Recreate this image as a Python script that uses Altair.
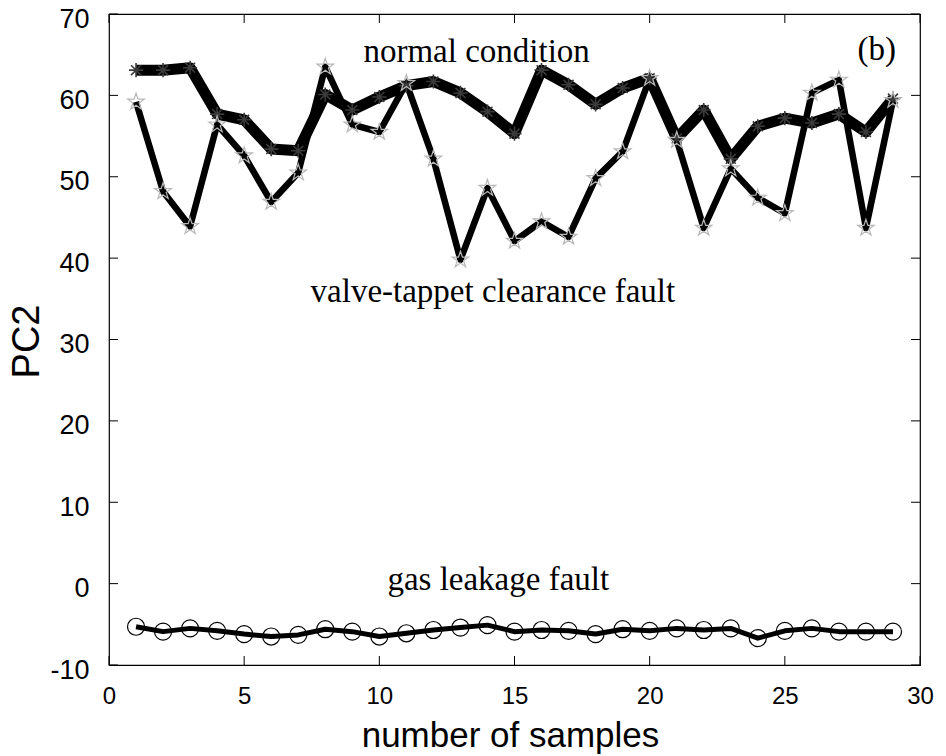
import math
import altair as alt
import pandas as pd

# ---------------- data ----------------
samples = list(range(1, 30))
normal = [63.1, 63.1, 63.4, 57.7, 57.0, 53.4, 53.2, 60.1, 58.2, 59.8, 61.2, 61.7, 60.3, 58.0, 55.3,
          63.1, 61.3, 58.9, 60.9, 62.1, 54.7, 58.2, 52.2, 56.2, 57.2, 56.6, 57.7, 55.5, 59.6]
valve = [59.2, 48.2, 43.9, 56.4, 52.6, 46.9, 50.5, 63.5, 56.4, 55.5, 61.5, 52.2, 39.8, 48.6, 42.1,
         44.5, 42.6, 49.8, 53.1, 62.1, 54.5, 43.7, 51.0, 47.4, 45.5, 60.3, 61.9, 43.7, 59.4]
gas = [-5.3, -5.9, -5.5, -5.8, -6.2, -6.5, -6.3, -5.6, -5.9, -6.5, -6.1, -5.7, -5.4, -5.1, -5.9,
       -5.7, -5.8, -6.2, -5.6, -5.8, -5.5, -5.7, -5.5, -6.7, -5.8, -5.5, -5.9, -5.9, -5.9]

xticks = [0, 5, 10, 15, 20, 25, 30]
yticks = [-10, 0, 10, 20, 30, 40, 50, 60, 70]

ann_text = ["normal condition", "valve-tappet clearance fault", "gas leakage fault", "(b)"]
ann_x = [13.6, 14.2, 14.4, 28.4]
ann_y = [64.1, 34.6, -0.8, 64.3]

# ---------------- layout ----------------
W, H = 811, 651
TK = 9

df_n = pd.DataFrame({"sample": samples, "pc2": normal})
df_v = pd.DataFrame({"sample": samples, "pc2": valve})
df_g = pd.DataFrame({"sample": samples, "pc2": gas})
df_xt = pd.DataFrame({"sample": xticks})
df_yt = pd.DataFrame({"pc2": yticks})
df_ann = pd.DataFrame({"text": ann_text, "sample": ann_x, "pc2": ann_y})

xs = alt.Scale(domain=[0, 30], nice=False, zero=False)
ys = alt.Scale(domain=[-10, 70], nice=False, zero=False)

# marker shapes
pts = []
for i in range(10):
    r = 1.0 if i % 2 == 0 else 0.382
    a = -math.pi / 2 + i * math.pi / 5
    pts.append((r * math.cos(a), r * math.sin(a)))
star_path = "M" + "L".join(f"{px:.3f},{py:.3f}" for px, py in pts) + "Z"
aster_path = "M0,-1L0,1M-1,0L1,0M-0.7,-0.7L0.7,0.7M-0.7,0.7L0.7,-0.7"

xaxis = alt.Axis(values=xticks, title="number of samples", labelFont="Liberation Sans",
                 labelFontSize=24, labelColor="black", labelPadding=19, ticks=False,
                 domain=False, grid=False, labelFlush=False, labelExpr="'' + datum.value",
                 titleFont="Liberation Sans", titleFontSize=35, titleFontWeight="normal",
                 titleColor="black", titleX=401, titleY=70, titleBaseline="middle",
                 titleAlign="center")
yaxis = alt.Axis(values=yticks, title="PC2", labelFont="Liberation Sans", labelFontSize=27,
                 labelColor="black", labelPadding=20, labelOffset=5, ticks=False,
                 domain=False, grid=False, labelFlush=False, labelExpr="'' + datum.value",
                 titleFont="Liberation Sans", titleFontSize=38, titleFontWeight="normal",
                 titleColor="black", titleX=-82, titleY=327, titleAngle=270,
                 titleBaseline="middle", titleAlign="center")

XE = alt.X("sample:Q", scale=xs, axis=xaxis, title="number of samples")
YE = alt.Y("pc2:Q", scale=ys, axis=yaxis, title="PC2")

line_n = alt.Chart(df_n).mark_line(color="black", strokeWidth=11, strokeJoin="round").encode(x=XE, y=YE)
line_v = alt.Chart(df_v).mark_line(color="black", strokeWidth=6.5, strokeJoin="round").encode(x=XE, y=YE)
line_g = alt.Chart(df_g).mark_line(color="black", strokeWidth=5, strokeJoin="round").encode(x=XE, y=YE)
pt_n = alt.Chart(df_n).mark_point(shape=aster_path, filled=False, size=200, stroke="#3a3a3a",
                                  strokeWidth=1.6, opacity=1).encode(x=XE, y=YE)
pt_v = alt.Chart(df_v).mark_point(shape=star_path, filled=False, size=300, stroke="#b8b8b8",
                                  strokeWidth=1.2, opacity=1).encode(x=XE, y=YE)
pt_g = alt.Chart(df_g).mark_point(shape="circle", filled=False, size=290, stroke="black",
                                  strokeWidth=1.2, opacity=1).encode(x=XE, y=YE)

tick_b = alt.Chart(df_xt).mark_rule(color="black", strokeWidth=1).encode(
    x=XE, y=alt.value(H), y2=alt.value(H - TK))
tick_t = alt.Chart(df_xt).mark_rule(color="black", strokeWidth=1).encode(
    x=XE, y=alt.value(0), y2=alt.value(TK))
tick_l = alt.Chart(df_yt).mark_rule(color="black", strokeWidth=1).encode(
    y=YE, x=alt.value(0), x2=alt.value(TK))
tick_r = alt.Chart(df_yt).mark_rule(color="black", strokeWidth=1).encode(
    y=YE, x=alt.value(W), x2=alt.value(W - TK))

ann = alt.Chart(df_ann).mark_text(font="Liberation Serif", fontSize=33, baseline="alphabetic",
                                  align="center", color="black").encode(
    x=XE, y=YE, text="text:N",
)

chart = alt.layer(
    line_n, line_v, line_g, pt_n, pt_v, pt_g, tick_b, tick_t, tick_l, tick_r, ann
).properties(
    width=W, height=H,
    padding={"left": 109, "top": 14, "right": 26, "bottom": 91},
    autosize=alt.AutoSizeParams(type="none"),
    background="white",
).configure_view(stroke="black", strokeWidth=1.2)

chart.save("out.html", embed_options={"renderer": "svg", "actions": False})
